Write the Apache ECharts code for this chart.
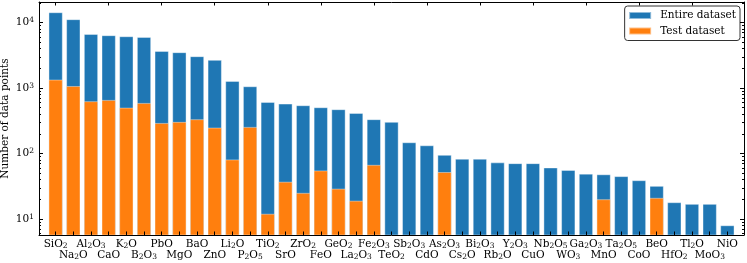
<!DOCTYPE html>
<html><head><meta charset="utf-8">
<script src="https://cdn.jsdelivr.net/npm/echarts@6/dist/echarts.min.js"></script>
<style>html,body{margin:0;padding:0;background:#fff}#c{width:747px;height:263px}</style>
</head><body><div id="c"></div>
<script>
const categories = ['SiO2','Na2O','Al2O3','CaO','K2O','B2O3','PbO','MgO','BaO','ZnO','Li2O','P2O5','TiO2','SrO','ZrO2','FeO','GeO2','La2O3','Fe2O3','TeO2','Sb2O3','CdO','As2O3','Cs2O','Bi2O3','Rb2O','Y2O3','CuO','Nb2O5','WO3','Ga2O3','MnO','Ta2O5','CoO','BeO','HfO2','Tl2O','MoO3','NiO'];
const entireDataset = [14300,11200,6670,6380,6150,6010,3670,3510,3050,2680,1280,1060,611,576,544,507,473,415,333,303,148,133,95,83,83,73,71,71,61,56,49,48,45,39,32,18,17,17,8];
const testDataset = [1340,1070,627,656,500,590,292,303,333,248,81,254,12,37,25,55,29,19,67,null,null,null,52,null,null,null,null,null,null,null,null,20,null,null,21,null,null,null,null];
const majorTicks = [10,100,1000,10000];
const minorTicks = [6,7,8,9,20,30,40,50,60,70,80,90,200,300,400,500,600,700,800,900,2000,3000,4000,5000,6000,7000,8000,9000,20000];
const seriesNames = ['Entire dataset','Test dataset'];

const FONT = 'DejaVu Serif';
const FS = 10.5;
const YMIN = 5.7, YMAX = 20560;
function chem(name){
  let out = '';
  for (const ch of name) out += /[0-9]/.test(ch) ? '{s|'+ch+'}' : '{n|'+ch+'}';
  return out;
}
const chart = echarts.init(document.getElementById('c'), null, {renderer:'canvas'});
const frameGrid = {left:39, right:3, top:2, bottom:28, outerBoundsMode:'none', containLabel:false};
const dataGrid = {left:46.8, right:10.8, top:2, bottom:28, outerBoundsMode:'none', containLabel:false};
const logAxis = (extra) => Object.assign({type:'log', logBase:10, min:YMIN, max:YMAX, splitLine:{show:false}, axisLine:{show:false}, axisLabel:{show:false}, axisTick:{show:false}}, extra);
chart.setOption({
  animation:false,
  grid:[frameGrid, dataGrid],
  legend:{
    data:seriesNames, orient:'vertical', right:7, top:6, icon:'rect',
    itemWidth:22, itemHeight:7, itemGap:3.5,
    borderColor:'#333', borderWidth:1, borderRadius:3, padding:[3.5,4,3.5,3.5],
    textStyle:{fontFamily:FONT, fontSize:FS, color:'#000', lineHeight:12, padding:[0,0,0,4]}
  },
  xAxis:[
    {gridIndex:0, type:'value', min:0, max:1, position:'bottom', z:5, axisLine:{show:true, lineStyle:{color:'#000', width:1}}, axisTick:{show:false}, axisLabel:{show:false}, splitLine:{show:false}},
    {gridIndex:0, type:'value', min:0, max:1, position:'top', z:5, axisLine:{show:true, lineStyle:{color:'#000', width:1}}, axisTick:{show:false}, axisLabel:{show:false}, splitLine:{show:false}},
    {gridIndex:1, type:'category', data:categories, position:'bottom', z:5,
      axisLine:{show:false}, axisTick:{show:true, inside:true, length:3.5, alignWithLabel:true, lineStyle:{color:'#000'}},
      axisLabel:{interval:0, margin:4, fontFamily:FONT, fontSize:FS, color:'#000', lineHeight:11,
        formatter:(v,i)=> (i%2===1 ? '\n' : '') + chem(v),
        rich:{n:{fontFamily:FONT, fontSize:FS, color:'#000', lineHeight:11}, s:{fontFamily:FONT, fontSize:7.5, color:'#000', lineHeight:7, verticalAlign:'bottom'}}}},
    {gridIndex:1, type:'category', data:categories, position:'top', z:5,
      axisLine:{show:false}, axisTick:{show:true, inside:true, length:3.5, alignWithLabel:true, lineStyle:{color:'#000'}}, axisLabel:{show:false}}
  ],
  yAxis:[
    logAxis({gridIndex:0, position:'left', z:5, axisLine:{show:true, lineStyle:{color:'#000'}},
      axisTick:{show:true, inside:true, length:4, customValues:majorTicks, lineStyle:{color:'#000'}},
      axisLabel:{show:true, margin:5, customValues:majorTicks, fontFamily:FONT, fontSize:FS, color:'#000',
        formatter:(v)=> '{n|10}{p|'+Math.round(Math.log10(v))+'}',
        rich:{n:{fontFamily:FONT, fontSize:FS, color:'#000', lineHeight:12}, p:{fontFamily:FONT, fontSize:7.5, color:'#000', lineHeight:8, verticalAlign:'top'}}},
      name:'Number of data points', nameLocation:'middle', nameGap:28, nameMoveOverlap:false,
      nameTextStyle:{fontFamily:FONT, fontSize:FS, color:'#000'}}),
    logAxis({gridIndex:0, position:'left', z:5, axisTick:{show:true, inside:true, length:2, customValues:minorTicks, lineStyle:{color:'#000'}}}),
    logAxis({gridIndex:0, position:'right', z:5, axisLine:{show:true, lineStyle:{color:'#000'}}, axisTick:{show:true, inside:true, length:4, customValues:majorTicks, lineStyle:{color:'#000'}}}),
    logAxis({gridIndex:0, position:'right', z:5, axisTick:{show:true, inside:true, length:2, customValues:minorTicks, lineStyle:{color:'#000'}}}),
    logAxis({gridIndex:1, position:'left'})
  ],
  series:[
    {name:seriesNames[0], type:'bar', xAxisIndex:2, yAxisIndex:4, data:entireDataset, barCategoryGap:'20%', barGap:'-100%',
      itemStyle:{color:'#1f77b4', borderColor:'rgba(255,255,255,0.5)', borderWidth:0.8}},
    {name:seriesNames[1], type:'bar', xAxisIndex:2, yAxisIndex:4, data:testDataset, barCategoryGap:'20%', barGap:'-100%',
      itemStyle:{color:'#ff7f0e', borderColor:'rgba(255,255,255,0.5)', borderWidth:0.8}}
  ]
});
</script></body></html>
